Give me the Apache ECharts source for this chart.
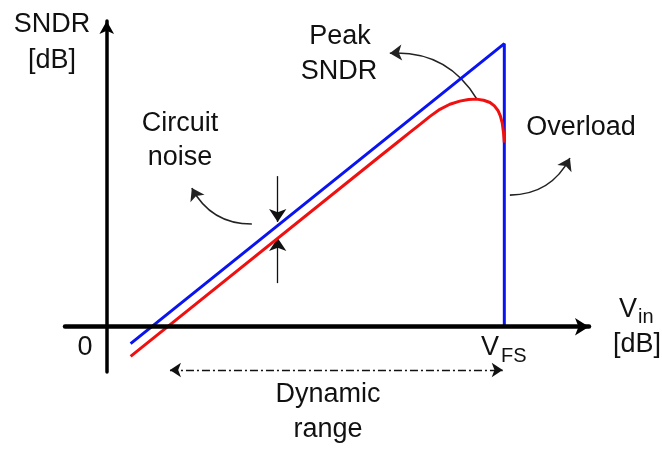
<!DOCTYPE html>
<html lang="en">
<head>
  <meta charset="UTF-8">
  <title>SNDR vs Vin</title>
  <style>
    html, body { margin: 0; padding: 0; background: #fff; }
    #chart { width: 662px; height: 449px; }
  </style>
  <script src="https://cdn.jsdelivr.net/npm/echarts@6/dist/echarts.min.js"></script>
</head>
<body>
  <div id="chart"></div>
  <script>
    // ideal SNDR (blue) and real SNDR (red), units: Vin [dB] / SNDR [dB], V_FS = 100
    const idealX = [6, 100, 100];
    const idealY = [-6, 100, 0];
    const realX = [6, 68.8, 73.7, 76, 78.8, 81.3, 83.8, 86.3, 88.8, 91, 93.0, 94.8, 96.4, 97.5, 98.4, 99.0, 99.5, 99.8, 100];
    const realY = [-10.5, 60.3, 65.8, 68.4, 71.5, 74.3, 76.8, 78.6, 79.7, 80.3, 80.4, 80.0, 79.2, 78.0, 76.4, 74.5, 71.8, 68.5, 65.0];

    // annotation arrows [x1, y1, x2, y2, curveness]
    const curvedArrows = [
      [93.1, 80.4, 71.2, 96.6, -0.3],   // Peak SNDR
      [36.5, 36.3, 21.4, 49.0, 0.3],    // Circuit noise
      [101.4, 46.5, 116.5, 59.6, -0.3]  // Overload
    ];
    const noiseArrows = [
      [43.0, 53.2, 43.0, 37.0],
      [43.0, 15.4, 43.0, 31.3]
    ];
    const rangeArrow = [15.9, -15.3, 99.6, -15.3];

    const FONT = "'Liberation Sans', Arial, sans-serif";
    function txt(x, y, s, size, align) {
      return {
        type: 'text', x: x, y: y, z: 10,
        style: {
          text: s, font: size + 'px ' + FONT, fill: '#111',
          align: align || 'center', verticalAlign: 'middle'
        }
      };
    }

    const chart = echarts.init(document.getElementById('chart'));
    const option = {
      animation: false,
      grid: { left: 65, right: 73, top: 21, bottom: 77 },
      xAxis: {
        type: 'value', min: -10.5, max: 121.3, z: 5,
        axisLine: { onZero: true, symbol: ['none', 'arrow'], symbolSize: [13, 14],
          lineStyle: { color: '#000', width: 4.5 } },
        axisTick: { show: false }, axisLabel: { show: false }, splitLine: { show: false }
      },
      yAxis: {
        type: 'value', min: -16, max: 108, z: 5,
        axisLine: { onZero: true, symbol: ['none', 'arrow'], symbolSize: [11, 13],
          lineStyle: { color: '#000', width: 3.5 } },
        axisTick: { show: false }, axisLabel: { show: false }, splitLine: { show: false }
      },
      series: [
        {
          type: 'line', symbol: 'none',
          data: idealX.map((x, i) => [x, idealY[i]]),
          lineStyle: { color: '#0a14f0', width: 3 }
        },
        {
          type: 'line', symbol: 'none',
          data: realX.map((x, i) => [x, realY[i]]),
          lineStyle: { color: '#f01010', width: 3, join: 'round' }
        },
        {
          type: 'lines', coordinateSystem: 'cartesian2d', clip: false,
          symbol: ['none', 'arrow'], symbolSize: 12,
          lineStyle: { color: '#222', width: 1.6, opacity: 1 },
          data: curvedArrows.map(a => ({
            coords: [[a[0], a[1]], [a[2], a[3]]],
            lineStyle: { curveness: a[4] }
          }))
        },
        {
          type: 'lines', coordinateSystem: 'cartesian2d', clip: false,
          symbol: ['none', 'arrow'], symbolSize: 13,
          lineStyle: { color: '#111', width: 1.3, opacity: 1 },
          data: noiseArrows.map(a => ({ coords: [[a[0], a[1]], [a[2], a[3]]] }))
        },
        {
          type: 'lines', coordinateSystem: 'cartesian2d', clip: false,
          symbol: ['arrow', 'arrow'], symbolSize: 11,
          lineStyle: { color: '#111', width: 1.3, opacity: 1, type: [8, 3, 2, 3] },
          data: [{ coords: [[rangeArrow[0], rangeArrow[1]], [rangeArrow[2], rangeArrow[3]]] }]
        }
      ],
      graphic: [
        txt(52, 25, 'SNDR', 27),
        txt(52, 61, '[dB]', 27),
        txt(340, 37, 'Peak', 27),
        txt(339, 72, 'SNDR', 27),
        txt(180, 124, 'Circuit', 27),
        txt(180, 158, 'noise', 27),
        txt(581, 128, 'Overload', 27),
        txt(328, 395, 'Dynamic', 27),
        txt(328, 430, 'range', 27),
        txt(85, 348, '0', 27),
        txt(490, 348, 'V', 27),
        txt(501, 356, 'FS', 20, 'left'),
        txt(628, 310, 'V', 27),
        txt(638, 317, 'in', 20, 'left'),
        txt(637, 345, '[dB]', 27)
      ]
    };
    chart.setOption(option);
  </script>
</body>
</html>
